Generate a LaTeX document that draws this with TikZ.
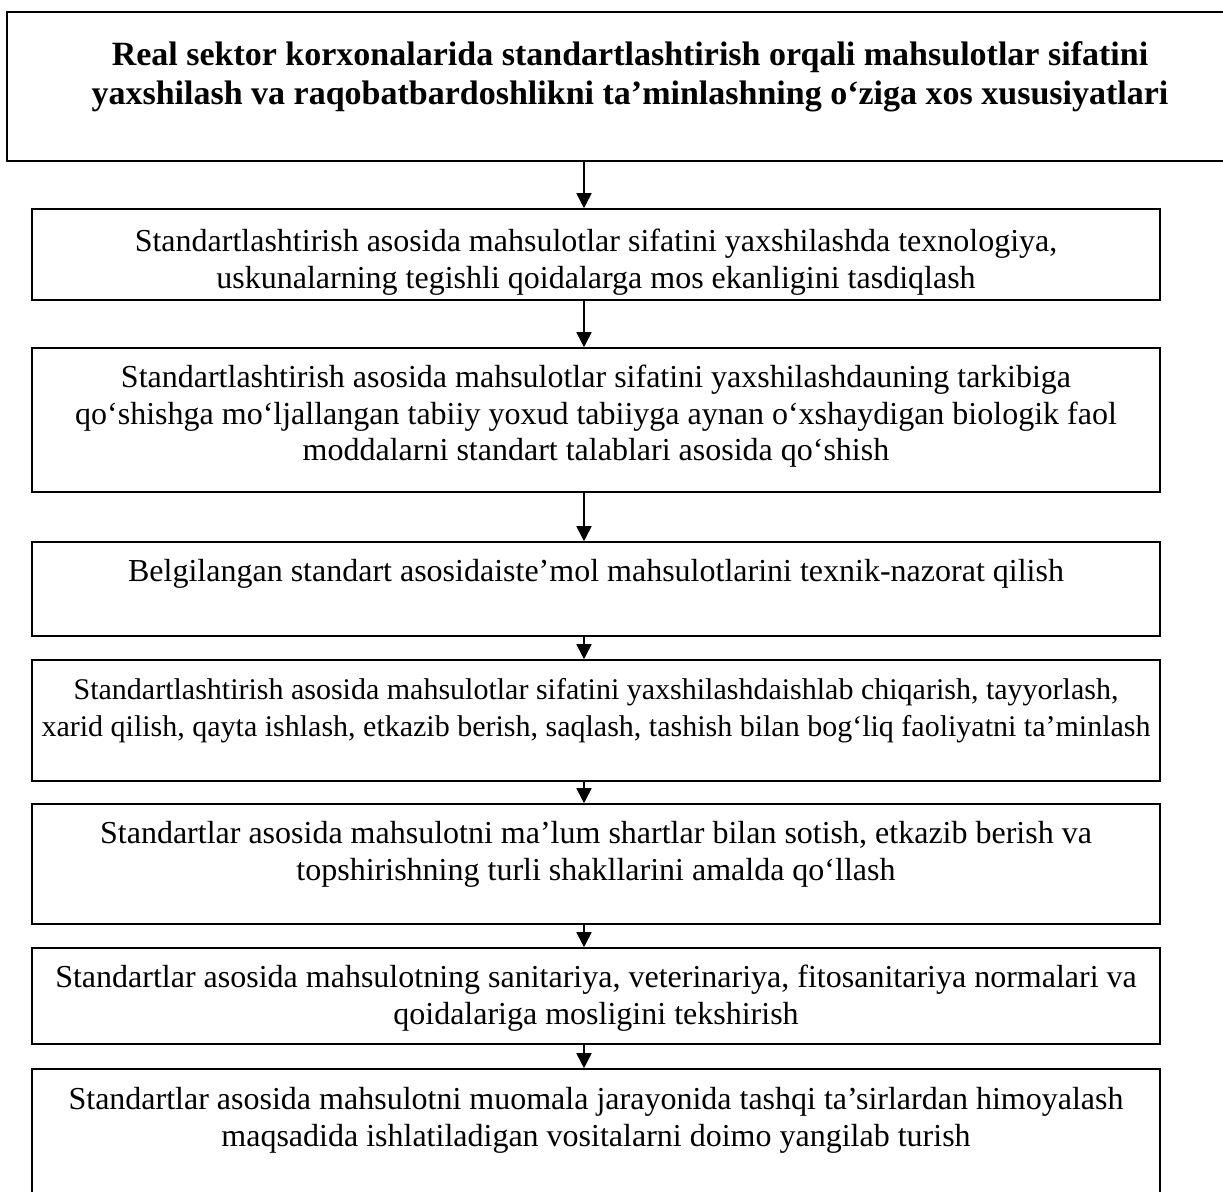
\documentclass[tikz,border=0pt]{standalone}
\usepackage{fontspec}
\setmainfont{Liberation Serif}
\usetikzlibrary{arrows.meta}
\tikzset{
  box/.style={draw, line width=1.6pt, inner sep=0pt, fill=white},
  label/.style={anchor=base, align=center, inner sep=0pt,
    font=\fontsize{32}{36.8}\selectfont},
  title/.style={anchor=base, align=center, inner sep=0pt,
    font=\fontsize{34}{39}\selectfont\bfseries},
  arr/.style={line width=1.8pt, -{Triangle[length=15pt,width=15pt]}}
}
\begin{document}
\begin{tikzpicture}[x=1pt, y=-1pt]
\clip (0,0) rectangle (1223,1191);
\fill[white] (0,0) rectangle (1223,1191);
% boxes of the chain
\node[box, minimum width=1246pt, minimum height=149pt] (b1) at (630,86.5) {};
\node[box, minimum width=1128pt, minimum height=91pt]  (b2) at (596,254.5) {};
\node[box, minimum width=1128pt, minimum height=144pt] (b3) at (596,420) {};
\node[box, minimum width=1128pt, minimum height=94pt]  (b4) at (596,589) {};
\node[box, minimum width=1128pt, minimum height=121pt] (b5) at (596,720.5) {};
\node[box, minimum width=1128pt, minimum height=120pt] (b6) at (596,864) {};
\node[box, minimum width=1128pt, minimum height=96pt]  (b7) at (596,996) {};
\node[box, minimum width=1128pt, minimum height=151pt] (b8) at (596,1144.5) {};
% texts (anchored at the baseline of their last line)
\node[title] (t1) at ([yshift=-93pt]b1.north) {Real sektor korxonalarida standartlashtirish orqali mahsulotlar sifatini\\yaxshilash va raqobatbardoshlikni ta’minlashning o‘ziga xos xususiyatlari};
\begin{scope}
\clip ([yshift=-0.8pt]b2.north west) rectangle ([yshift=0.8pt]b2.south east);
\node[label] (t2) at ([yshift=-80pt]b2.north) {Standartlashtirish asosida mahsulotlar sifatini yaxshilashda texnologiya,\\uskunalarning tegishli qoidalarga mos ekanligini tasdiqlash};
\end{scope}
\node[label] (t3) at ([yshift=-113.6pt]b3.north) {Standartlashtirish asosida mahsulotlar sifatini yaxshilashdauning tarkibiga\\qo‘shishga mo‘ljallangan tabiiy yoxud tabiiyga aynan o‘xshaydigan biologik faol\\moddalarni standart talablari asosida qo‘shish};
\node[label] (t4) at ([yshift=-40pt]b4.north) {Belgilangan standart asosidaiste’mol mahsulotlarini texnik-nazorat qilish};
\node[label, font=\fontsize{30}{36.8}\selectfont] (t5) at ([yshift=-76.8pt]b5.north) {Standartlashtirish asosida mahsulotlar sifatini yaxshilashdaishlab chiqarish, tayyorlash,\\xarid qilish, qayta ishlash, etkazib berish, saqlash, tashish bilan bog‘liq faoliyatni ta’minlash};
\node[label] (t6) at ([yshift=-76.8pt]b6.north) {Standartlar asosida mahsulotni ma’lum shartlar bilan sotish, etkazib berish va\\topshirishning turli shakllarini amalda qo‘llash};
\node[label] (t7) at ([yshift=-76.8pt]b7.north) {Standartlar asosida mahsulotning sanitariya, veterinariya, fitosanitariya normalari va\\qoidalariga mosligini tekshirish};
\node[label] (t8) at ([yshift=-77.8pt]b8.north) {Standartlar asosida mahsulotni muomala jarayonida tashqi ta’sirlardan himoyalash\\maqsadida ishlatiladigan vositalarni doimo yangilab turish};
% connectors
\coordinate (ax) at (584,0);
\draw[arr] (b1.south -| ax) -- (b2.north -| ax);
\draw[arr] (b2.south -| ax) -- (b3.north -| ax);
\draw[arr] (b3.south -| ax) -- (b4.north -| ax);
\draw[arr] (b4.south -| ax) -- (b5.north -| ax);
\draw[arr] (b5.south -| ax) -- (b6.north -| ax);
\draw[arr] (b6.south -| ax) -- (b7.north -| ax);
\draw[arr] (b7.south -| ax) -- (b8.north -| ax);
\end{tikzpicture}
\end{document}
